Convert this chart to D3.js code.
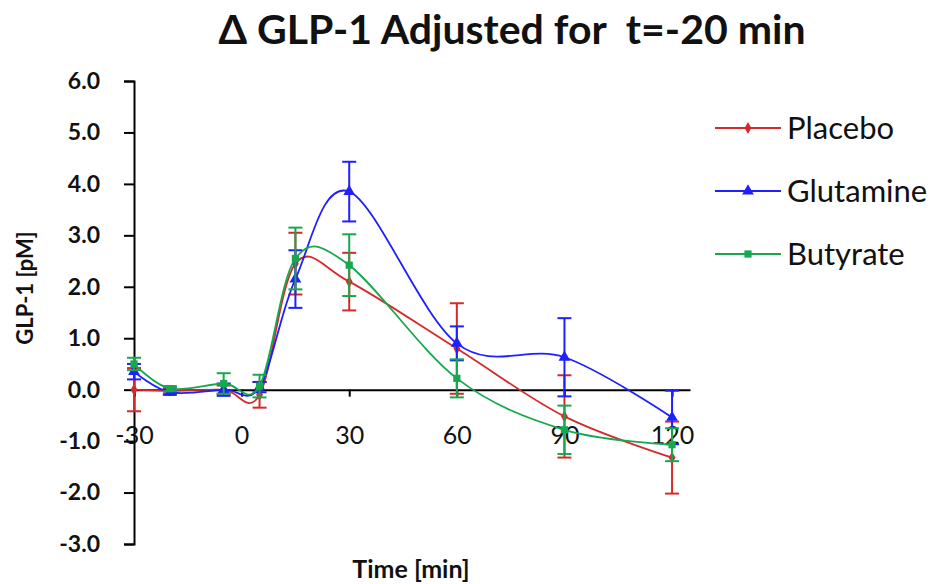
<!DOCTYPE html>
<html>
<head>
<meta charset="utf-8">
<script src="https://cdn.jsdelivr.net/npm/d3@7"></script>
<style>
  body { margin: 0; background: #fff; }
  svg { display: block; font-family: Lato, "Open Sans", sans-serif; }
</style>
</head>
<body>
<svg id="chart" width="936" height="584"></svg>
<script>
// time points (min)
const times = [-30, -20, -5, 5, 15, 30, 60, 90, 120];

// series means and error (pM)
const placebo = [0.0, -0.02, 0.0, -0.1, 2.45, 2.1, 0.8, -0.52, -1.32];
const placeboErr = [0.42, 0.05, 0.08, 0.25, 0.6, 0.56, 0.88, 0.8, 0.7];
const glutamine = [0.35, -0.05, 0.0, 0.05, 2.15, 3.85, 0.9, 0.63, -0.54];
const glutamineErr = [0.15, 0.05, 0.12, 0.1, 0.56, 0.58, 0.33, 0.76, 0.52];
const butyrate = [0.5, 0.02, 0.12, 0.07, 2.55, 2.42, 0.22, -0.78, -1.07];
const butyrateErr = [0.12, 0.05, 0.2, 0.22, 0.6, 0.6, 0.37, 0.47, 0.32];

const xTicks = [-30, 0, 30, 60, 90, 120];
const yTicks = [-3, -2, -1, 0, 1, 2, 3, 4, 5, 6];

const series = [
  { name: "Placebo", values: placebo, err: placeboErr, color: "#d42a2a", symbol: d3.symbolDiamond, size: 40 },
  { name: "Glutamine", values: glutamine, err: glutamineErr, color: "#1f1fff", symbol: d3.symbolTriangle, size: 60 },
  { name: "Butyrate", values: butyrate, err: butyrateErr, color: "#16a84f", symbol: d3.symbolSquare, size: 52 }
];

const svg = d3.select("#chart");

const x = d3.scaleLinear().domain([-30, 125]).range([134, 690]);
const y = d3.scaleLinear().domain([-3, 6]).range([544, 81]);

// plain hyphen for negatives, like the original
const fmt = d => d.toFixed(1);

// title
svg.append("text")
  .attr("x", 512).attr("y", 44)
  .attr("text-anchor", "middle")
  .attr("font-size", 41).attr("font-weight", "bold")
  .attr("fill", "#111")
  .style("white-space", "pre")
  .text("\u0394 GLP-1 Adjusted for  t=-20 min");

// y axis
const yAxis = svg.append("g")
  .attr("transform", `translate(${x(-30)},0)`)
  .call(d3.axisLeft(y).tickValues(yTicks).tickSize(10).tickPadding(24).tickFormat(fmt));
yAxis.select(".domain").attr("stroke", "#000").attr("stroke-width", 2);
yAxis.selectAll(".tick line").attr("stroke", "#000").attr("stroke-width", 2);
yAxis.selectAll(".tick text")
  .attr("font-size", 23).attr("font-weight", "bold")
  .attr("font-family", "Lato, sans-serif").attr("fill", "#111");

// x axis at y = 0
const xAxis = svg.append("g")
  .attr("transform", `translate(0,${y(0)})`)
  .call(d3.axisBottom(x).tickValues(xTicks).tickSize(7).tickSizeOuter(0).tickPadding(30).tickFormat(d => String(d)));
xAxis.select(".domain").attr("stroke", "#000").attr("stroke-width", 2);
xAxis.selectAll(".tick line").attr("stroke", "#000").attr("stroke-width", 2);
xAxis.selectAll(".tick text")
  .attr("font-size", 25)
  .attr("font-family", "Lato, sans-serif").attr("fill", "#111");

// axis titles
svg.append("text")
  .attr("x", 411).attr("y", 578)
  .attr("text-anchor", "middle")
  .attr("font-size", 25).attr("font-weight", "bold").attr("fill", "#111")
  .text("Time [min]");

svg.append("text")
  .attr("transform", `translate(33,288) rotate(-90)`)
  .attr("text-anchor", "middle")
  .attr("font-size", 22).attr("font-weight", "bold").attr("fill", "#111")
  .text("GLP-1 [pM]");

const line = d3.line()
  .x((d, i) => x(times[i]))
  .y(d => y(d))
  .curve(d3.curveCardinal.tension(0));

const plot = svg.append("g");

series.forEach(s => {
  const g = plot.append("g");

  // error bars
  const eb = g.selectAll(".err")
    .data(s.values)
    .join("g");
  eb.append("line")
    .attr("x1", (d, i) => x(times[i])).attr("x2", (d, i) => x(times[i]))
    .attr("y1", (d, i) => y(d - s.err[i])).attr("y2", (d, i) => y(d + s.err[i]))
    .attr("stroke", s.color).attr("stroke-width", 2);
  [-1, 1].forEach(sign => {
    eb.append("line")
      .attr("x1", (d, i) => x(times[i]) - 7).attr("x2", (d, i) => x(times[i]) + 7)
      .attr("y1", (d, i) => y(d + sign * s.err[i])).attr("y2", (d, i) => y(d + sign * s.err[i]))
      .attr("stroke", s.color).attr("stroke-width", 2);
  });

  g.append("path")
    .datum(s.values)
    .attr("fill", "none")
    .attr("stroke", s.color)
    .attr("stroke-width", 1.8)
    .attr("d", line);

  g.selectAll(".pt")
    .data(s.values)
    .join("path")
    .attr("transform", (d, i) => `translate(${x(times[i])},${y(d)})`)
    .attr("d", d3.symbol().type(s.symbol).size(s.size))
    .attr("fill", s.color);
});

// legend
const legend = svg.append("g");
series.forEach((s, i) => {
  const ly = 128 + i * 63;
  legend.append("line")
    .attr("x1", 715).attr("x2", 781)
    .attr("y1", ly).attr("y2", ly)
    .attr("stroke", s.color).attr("stroke-width", 2);
  legend.append("path")
    .attr("transform", `translate(748,${ly})`)
    .attr("d", d3.symbol().type(s.symbol).size(s.size))
    .attr("fill", s.color);
  legend.append("text")
    .attr("x", 787).attr("y", ly + 11)
    .attr("font-size", 31).attr("fill", "#111")
    .text(s.name);
});
</script>
</body>
</html>
